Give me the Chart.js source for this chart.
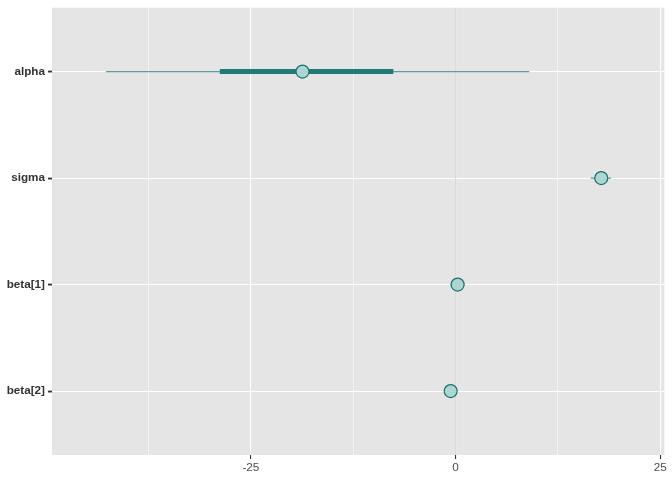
<!DOCTYPE html>
<html>
<head>
<meta charset="utf-8">
<script src="https://cdn.jsdelivr.net/npm/chart.js@4"></script>
<style>
  html, body { margin:0; padding:0; background:#fff; }
  #wrap { width:672px; height:480px; }
</style>
</head>
<body>
<div id="wrap"><canvas id="c" width="672" height="480"></canvas></div>
<script>
const params = ['alpha', 'sigma', 'beta[1]', 'beta[2]'];
const medians = [-18.7, 17.8, 0.25, -0.6];
const innerLow = [-28.8, 17.2, -0.3, -1.1];
const innerHigh = [-7.6, 18.4, 0.8, -0.1];
const outerLow = [-42.7, 16.5, -0.6, -1.4];
const outerHigh = [9.0, 19.0, 1.1, 0.2];
const xTicks = [-37.5, -25, -12.5, 0, 12.5, 25];
const xMajor = [-25, 0, 25];

const isMajor = v => xMajor.includes(v);

const outerSets = params.map((p, i) => ({
  type: 'line',
  data: [{x: outerLow[i], y: i}, {x: outerHigh[i], y: i}],
  borderColor: '#5a9f9d', borderWidth: 1.2, pointRadius: 0, order: 3
}));
const innerSets = params.map((p, i) => ({
  type: 'line',
  data: [{x: innerLow[i], y: i}, {x: innerHigh[i], y: i}],
  borderColor: '#1f7a78', borderWidth: 5, borderCapStyle: 'butt', pointRadius: 0, order: 2
}));
const pointSet = {
  type: 'scatter',
  data: params.map((p, i) => ({x: medians[i], y: i})),
  backgroundColor: '#aad6d3', borderColor: '#1d6f6d', borderWidth: 1.2,
  pointRadius: 6.5, pointHoverRadius: 6.5, order: 0
};

// vertical reference line at zero, drawn under the data
const zeroLine = {
  id: 'zeroLine',
  beforeDatasetsDraw(chart) {
    const {ctx, chartArea, scales} = chart;
    const x = scales.x.getPixelForValue(0);
    ctx.save();
    ctx.strokeStyle = '#d9d9d9';
    ctx.lineWidth = 1;
    ctx.beginPath();
    ctx.moveTo(x, chartArea.top);
    ctx.lineTo(x, chartArea.bottom);
    ctx.stroke();
    ctx.restore();
  }
};

const panelBg = {
  id: 'panelBg',
  beforeDraw(chart) {
    const {ctx, chartArea: a} = chart;
    ctx.save();
    ctx.fillStyle = '#e5e5e5';
    ctx.fillRect(a.left, a.top, a.right - a.left, a.bottom - a.top);
    ctx.restore();
  }
};

new Chart(document.getElementById('c'), {
  type: 'scatter',
  data: { datasets: [pointSet, ...innerSets, ...outerSets] },
  options: {
    responsive: false,
    animation: false,
    layout: { padding: { top: 7, right: 7, bottom: 0, left: 0 } },
    plugins: { legend: { display: false }, tooltip: { enabled: false } },
    scales: {
      x: {
        type: 'linear', min: -49.3, max: 25.5,
        afterBuildTicks: s => { s.ticks = xTicks.map(v => ({value: v})); },
        afterFit: s => { s.height = 25; },
        border: { display: false },
        grid: {
          color: '#ffffff',
          lineWidth: c => isMajor(c.tick.value) ? 1.1 : 0.55,
          tickColor: c => isMajor(c.tick.value) ? '#333333' : 'rgba(0,0,0,0)',
          tickLength: 4, tickWidth: 1.1
        },
        ticks: {
          autoSkip: false, maxRotation: 0, padding: 2,
          color: '#4d4d4d',
          font: { family: 'Liberation Sans, Arial, sans-serif', size: 11.7 },
          callback: v => isMajor(v) ? String(v) : ''
        }
      },
      y: {
        type: 'linear', min: -0.6, max: 3.6, reverse: true,
        afterBuildTicks: s => { s.ticks = params.map((p, i) => ({value: i})); },
        afterFit: s => { s.width = 52; s.paddingTop = 0; s.paddingBottom = 0; },
        border: { display: false },
        grid: { color: '#ffffff', lineWidth: 1.1, tickColor: '#333333', tickLength: 4, tickWidth: 1.8 },
        ticks: {
          autoSkip: false, padding: 3,
          color: '#333333',
          font: { family: 'Liberation Sans, Arial, sans-serif', size: 11.7, weight: 'bold' },
          callback: v => params[v]
        }
      }
    }
  },
  plugins: [panelBg, zeroLine]
});
</script>
</body>
</html>
